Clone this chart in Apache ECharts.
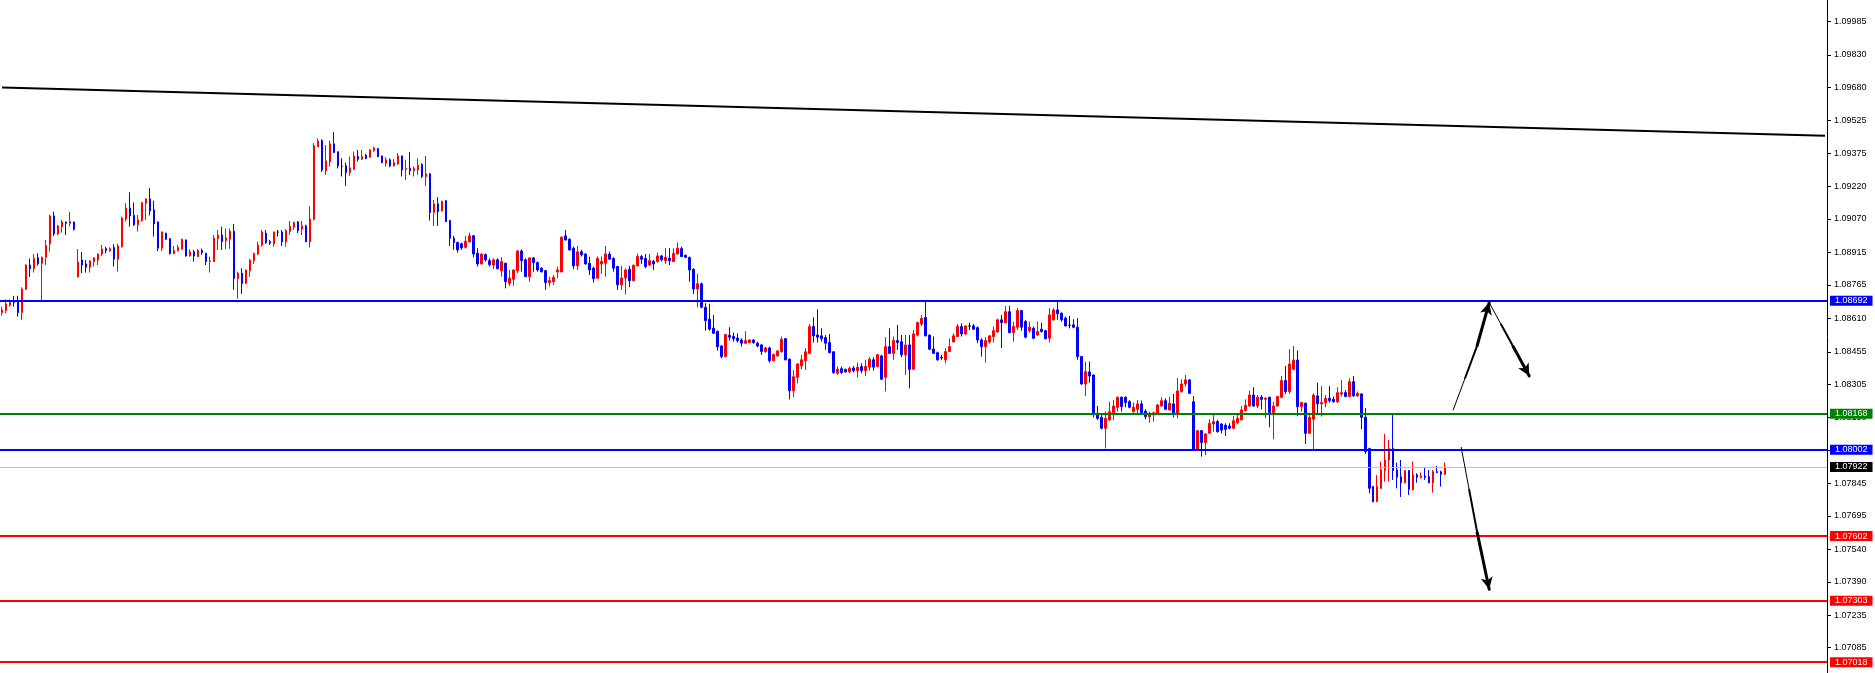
<!DOCTYPE html>
<html><head><meta charset="utf-8">
<script src="https://cdn.jsdelivr.net/npm/echarts@6/dist/echarts.min.js"></script>
<style>html,body{margin:0;padding:0;background:#fff}#c{width:1875px;height:673px}</style>
</head><body><div id="c"></div>
<script>
const openP=[1.08637,1.08646,1.08672,1.08692,1.08692,1.08637,1.08745,1.08857,1.08840,1.08891,
1.08865,1.08893,1.08955,1.09084,1.09001,1.09035,1.09056,1.09050,1.09056,1.08802,
1.08880,1.08862,1.08847,1.08873,1.08880,1.08908,1.08933,1.08924,1.08938,1.08884,
1.08942,1.09070,1.09121,1.09087,1.09043,1.09063,1.09143,1.09163,1.09112,1.09056,
1.08935,1.09004,1.08979,1.08910,1.08924,1.08930,1.08973,1.08899,1.08918,1.08896,
1.08924,1.08911,1.08873,1.08873,1.08979,1.08996,1.08970,1.08976,1.09013,1.08794,
1.08819,1.08772,1.08831,1.08877,1.08908,1.08950,1.09004,1.08965,1.08955,1.09009,
1.09010,1.08964,1.09012,1.09032,1.09056,1.09023,1.09038,1.08965,1.09069,1.09405,
1.09433,1.09294,1.09334,1.09418,1.09381,1.09314,1.09316,1.09285,1.09300,1.09359,
1.09347,1.09365,1.09356,1.09387,1.09396,1.09362,1.09328,1.09344,1.09316,1.09325,
1.09362,1.09300,1.09305,1.09294,1.09297,1.09322,1.09267,1.09279,1.09100,1.09140,
1.09109,1.09155,1.09063,1.08981,1.08961,1.08955,1.08939,1.08964,1.08992,1.08911,
1.08862,1.08905,1.08877,1.08857,1.08881,1.08831,1.08865,1.08772,1.08791,1.08831,
1.08922,1.08881,1.08803,1.08890,1.08868,1.08842,1.08831,1.08776,1.08780,1.08825,
1.08825,1.08992,1.08976,1.08935,1.08853,1.08918,1.08908,1.08865,1.08842,1.08796,
1.08862,1.08865,1.08908,1.08887,1.08850,1.08766,1.08797,1.08837,1.08785,1.08853,
1.08896,1.08887,1.08857,1.08874,1.08873,1.08899,1.08877,1.08888,1.08873,1.08908,
1.08933,1.08902,1.08892,1.08837,1.08746,1.08770,1.08661,1.08606,1.08564,1.08550,
1.08482,1.08433,1.08532,1.08526,1.08519,1.08510,1.08495,1.08498,1.08510,1.08495,
1.08487,1.08456,1.08473,1.08414,1.08436,1.08456,1.08516,1.08421,1.08275,1.08337,
1.08390,1.08414,1.08448,1.08572,1.08533,1.08529,1.08521,1.08498,1.08455,1.08356,
1.08377,1.08374,1.08362,1.08380,1.08368,1.08387,1.08368,1.08384,1.08418,1.08387,
1.08436,1.08337,1.08479,1.08448,1.08507,1.08502,1.08441,1.08487,1.08374,1.08533,
1.08584,1.08614,1.08533,1.08468,1.08451,1.08428,1.08418,1.08456,1.08501,1.08526,
1.08572,1.08538,1.08575,1.08575,1.08567,1.08510,1.08479,1.08501,1.08526,1.08547,
1.08603,1.08590,1.08641,1.08544,1.08569,1.08646,1.08595,1.08553,1.08564,1.08533,
1.08560,1.08553,1.08518,1.08603,1.08649,1.08634,1.08611,1.08578,1.08580,1.08569,
1.08433,1.08306,1.08362,1.08348,1.08170,1.08152,1.08101,1.08140,1.08173,1.08198,
1.08245,1.08245,1.08224,1.08178,1.08189,1.08214,1.08180,1.08155,1.08163,1.08167,
1.08204,1.08229,1.08186,1.08214,1.08170,1.08271,1.08306,1.08325,1.08224,1.08004,
1.08090,1.08035,1.08078,1.08121,1.08132,1.08121,1.08115,1.08112,1.08101,1.08127,
1.08140,1.08183,1.08204,1.08255,1.08204,1.08245,1.08235,1.08245,1.08173,1.08204,
1.08245,1.08322,1.08271,1.08374,1.08417,1.08201,1.08217,1.08078,1.08143,1.08251,
1.08214,1.08220,1.08240,1.08235,1.08224,1.08260,1.08266,1.08248,1.08317,1.08251,
1.08260,1.08152,1.08008,1.07831,1.07761,1.07823,1.07905,1.07954,1.08008,1.07908,
1.07877,1.07849,1.07905,1.07818,1.07885,1.07874,1.07880,1.07877,1.07849,1.07900,
1.07900,1.07888];
const highP=[1.08664,1.08698,1.08698,1.08714,1.08714,1.08754,1.08860,1.08887,1.08908,1.08911,
1.08896,1.08973,1.09090,1.09104,1.09043,1.09066,1.09058,1.09103,1.09058,1.08931,
1.08918,1.08880,1.08880,1.08893,1.08911,1.08950,1.08942,1.08939,1.08953,1.08955,
1.09081,1.09143,1.09194,1.09146,1.09089,1.09148,1.09166,1.09214,1.09155,1.09058,
1.09012,1.09007,1.08982,1.08945,1.08950,1.08979,1.08975,1.08930,1.08927,1.08931,
1.08933,1.08914,1.08896,1.08996,1.09019,1.09035,1.09026,1.09026,1.09047,1.08826,
1.08842,1.08836,1.08884,1.08914,1.08965,1.09019,1.09019,1.08973,1.09012,1.09019,
1.09019,1.09023,1.09061,1.09058,1.09061,1.09061,1.09043,1.09128,1.09421,1.09443,
1.09439,1.09412,1.09433,1.09473,1.09383,1.09351,1.09331,1.09359,1.09382,1.09390,
1.09390,1.09372,1.09393,1.09405,1.09399,1.09364,1.09356,1.09351,1.09347,1.09375,
1.09364,1.09344,1.09381,1.09313,1.09351,1.09328,1.09362,1.09282,1.09158,1.09171,
1.09155,1.09158,1.09066,1.08992,1.08965,1.08961,1.08992,1.09007,1.08996,1.08935,
1.08911,1.08911,1.08888,1.08888,1.08888,1.08893,1.08868,1.08834,1.08837,1.08927,
1.08930,1.08888,1.08892,1.08893,1.08873,1.08847,1.08834,1.08803,1.08811,1.08850,
1.08989,1.09019,1.08981,1.08942,1.08945,1.08927,1.08911,1.08896,1.08850,1.08896,
1.08896,1.08945,1.08919,1.08893,1.08853,1.08853,1.08842,1.08853,1.08859,1.08911,
1.08904,1.08908,1.08908,1.08881,1.08914,1.08904,1.08935,1.08935,1.08935,1.08961,
1.08942,1.08905,1.08896,1.08842,1.08816,1.08776,1.08680,1.08677,1.08626,1.08553,
1.08485,1.08538,1.08569,1.08544,1.08541,1.08518,1.08550,1.08513,1.08513,1.08502,
1.08492,1.08479,1.08479,1.08448,1.08464,1.08526,1.08519,1.08425,1.08371,1.08402,
1.08441,1.08472,1.08584,1.08615,1.08652,1.08564,1.08533,1.08538,1.08458,1.08387,
1.08387,1.08377,1.08387,1.08390,1.08405,1.08402,1.08418,1.08430,1.08430,1.08445,
1.08441,1.08523,1.08564,1.08526,1.08580,1.08533,1.08533,1.08533,1.08556,1.08595,
1.08626,1.08691,1.08535,1.08526,1.08456,1.08441,1.08472,1.08516,1.08541,1.08584,
1.08587,1.08578,1.08590,1.08584,1.08572,1.08518,1.08523,1.08533,1.08572,1.08609,
1.08626,1.08668,1.08668,1.08595,1.08657,1.08649,1.08603,1.08595,1.08572,1.08595,
1.08590,1.08556,1.08657,1.08657,1.08692,1.08637,1.08618,1.08621,1.08606,1.08611,
1.08436,1.08410,1.08410,1.08350,1.08204,1.08163,1.08178,1.08224,1.08232,1.08248,
1.08248,1.08248,1.08232,1.08220,1.08232,1.08229,1.08189,1.08178,1.08178,1.08214,
1.08245,1.08240,1.08245,1.08260,1.08333,1.08328,1.08348,1.08328,1.08251,1.08093,
1.08093,1.08078,1.08143,1.08163,1.08140,1.08124,1.08124,1.08124,1.08158,1.08163,
1.08204,1.08235,1.08275,1.08291,1.08255,1.08255,1.08245,1.08247,1.08224,1.08251,
1.08343,1.08390,1.08467,1.08482,1.08461,1.08224,1.08220,1.08173,1.08263,1.08312,
1.08297,1.08255,1.08297,1.08248,1.08291,1.08325,1.08278,1.08333,1.08343,1.08271,
1.08263,1.08194,1.08010,1.07834,1.07885,1.07947,1.08075,1.08047,1.08163,1.07942,
1.07954,1.07908,1.07908,1.07947,1.07893,1.07896,1.07920,1.07908,1.07908,1.07926,
1.07905,1.07942];
const lowP=[1.08623,1.08633,1.08664,1.08664,1.08618,1.08603,1.08742,1.08802,1.08822,1.08854,
1.08695,1.08857,1.08919,1.08992,1.08995,1.09007,1.08996,1.09035,1.09016,1.08799,
1.08819,1.08822,1.08822,1.08850,1.08857,1.08899,1.08911,1.08918,1.08850,1.08826,
1.08938,1.09058,1.09035,1.09038,1.09012,1.09058,1.09066,1.09086,1.08989,1.08922,
1.08922,1.08973,1.08905,1.08908,1.08919,1.08928,1.08896,1.08896,1.08873,1.08894,
1.08904,1.08857,1.08822,1.08871,1.08927,1.08927,1.08930,1.08933,1.08742,1.08701,
1.08723,1.08769,1.08803,1.08862,1.08904,1.08942,1.08955,1.08950,1.08942,1.08989,
1.08945,1.08942,1.08996,1.09019,1.09004,1.08996,1.08963,1.08938,1.09063,1.09402,
1.09288,1.09274,1.09313,1.09375,1.09304,1.09267,1.09223,1.09270,1.09297,1.09336,
1.09344,1.09347,1.09353,1.09381,1.09356,1.09328,1.09313,1.09310,1.09313,1.09321,
1.09267,1.09251,1.09274,1.09267,1.09274,1.09259,1.09223,1.09063,1.09038,1.09038,
1.09104,1.09056,1.08945,1.08927,1.08914,1.08927,1.08933,1.08961,1.08893,1.08850,
1.08859,1.08873,1.08850,1.08837,1.08837,1.08803,1.08749,1.08760,1.08760,1.08819,
1.08826,1.08801,1.08780,1.08826,1.08826,1.08822,1.08742,1.08757,1.08765,1.08796,
1.08823,1.08970,1.08924,1.08837,1.08834,1.08896,1.08859,1.08811,1.08776,1.08794,
1.08816,1.08803,1.08881,1.08826,1.08742,1.08742,1.08720,1.08754,1.08780,1.08850,
1.08862,1.08842,1.08853,1.08834,1.08868,1.08873,1.08862,1.08857,1.08871,1.08904,
1.08893,1.08890,1.08780,1.08723,1.08661,1.08657,1.08553,1.08553,1.08538,1.08461,
1.08425,1.08430,1.08507,1.08502,1.08498,1.08479,1.08492,1.08495,1.08492,1.08476,
1.08441,1.08451,1.08405,1.08411,1.08433,1.08451,1.08416,1.08235,1.08245,1.08309,
1.08374,1.08371,1.08445,1.08498,1.08498,1.08502,1.08464,1.08448,1.08353,1.08348,
1.08353,1.08359,1.08356,1.08359,1.08337,1.08356,1.08343,1.08368,1.08368,1.08384,
1.08325,1.08271,1.08445,1.08418,1.08464,1.08430,1.08348,1.08286,1.08371,1.08526,
1.08575,1.08527,1.08464,1.08445,1.08414,1.08418,1.08402,1.08455,1.08498,1.08523,
1.08526,1.08533,1.08556,1.08556,1.08495,1.08433,1.08405,1.08492,1.08498,1.08544,
1.08472,1.08587,1.08541,1.08502,1.08556,1.08553,1.08518,1.08544,1.08513,1.08529,
1.08544,1.08513,1.08498,1.08600,1.08603,1.08595,1.08572,1.08564,1.08564,1.08418,
1.08302,1.08251,1.08312,1.08152,1.08140,1.08096,1.08008,1.08136,1.08140,1.08178,
1.08178,1.08198,1.08194,1.08173,1.08170,1.08170,1.08143,1.08127,1.08132,1.08163,
1.08201,1.08186,1.08183,1.08152,1.08147,1.08266,1.08294,1.08260,1.07998,1.07998,
1.07970,1.07977,1.08075,1.08085,1.08081,1.08078,1.08065,1.08096,1.08096,1.08121,
1.08138,1.08178,1.08201,1.08201,1.08194,1.08189,1.08147,1.08106,1.08050,1.08201,
1.08240,1.08260,1.08260,1.08371,1.08158,1.08178,1.08028,1.08075,1.08004,1.08170,
1.08155,1.08198,1.08220,1.08220,1.08217,1.08248,1.08245,1.08245,1.08248,1.08248,
1.08096,1.07982,1.07800,1.07759,1.07759,1.07821,1.07854,1.07854,1.07862,1.07823,
1.07783,1.07846,1.07792,1.07812,1.07849,1.07868,1.07862,1.07846,1.07803,1.07893,
1.07831,1.07885];
const closeP=[1.08649,1.08677,1.08683,1.08683,1.08637,1.08745,1.08857,1.08840,1.08888,1.08863,
1.08893,1.08947,1.09084,1.09001,1.09038,1.09056,1.09050,1.09058,1.09023,1.08871,
1.08857,1.08847,1.08876,1.08890,1.08908,1.08931,1.08924,1.08933,1.08884,1.08945,
1.09075,1.09120,1.09084,1.09043,1.09066,1.09146,1.09163,1.09107,1.09047,1.08935,
1.09010,1.08976,1.08910,1.08924,1.08938,1.08976,1.08899,1.08918,1.08899,1.08924,
1.08914,1.08873,1.08876,1.08982,1.08996,1.08965,1.08982,1.09013,1.08794,1.08819,
1.08772,1.08834,1.08880,1.08911,1.08950,1.09010,1.08961,1.08958,1.09010,1.09009,
1.08964,1.09016,1.09035,1.09053,1.09016,1.09038,1.08965,1.09070,1.09409,1.09430,
1.09297,1.09339,1.09418,1.09378,1.09316,1.09314,1.09285,1.09307,1.09362,1.09347,
1.09359,1.09350,1.09390,1.09398,1.09359,1.09331,1.09344,1.09316,1.09331,1.09362,
1.09297,1.09305,1.09294,1.09304,1.09319,1.09267,1.09279,1.09100,1.09140,1.09104,
1.09152,1.09058,1.08981,1.08961,1.08927,1.08936,1.08967,1.08992,1.08908,1.08862,
1.08908,1.08881,1.08859,1.08881,1.08840,1.08873,1.08780,1.08796,1.08834,1.08922,
1.08877,1.08803,1.08890,1.08868,1.08834,1.08826,1.08776,1.08785,1.08800,1.08834,
1.08986,1.08973,1.08927,1.08853,1.08918,1.08904,1.08862,1.08834,1.08794,1.08887,
1.08873,1.08908,1.08884,1.08842,1.08766,1.08797,1.08834,1.08785,1.08856,1.08896,
1.08884,1.08850,1.08877,1.08862,1.08899,1.08881,1.08893,1.08877,1.08911,1.08935,
1.08896,1.08893,1.08834,1.08746,1.08770,1.08661,1.08600,1.08560,1.08541,1.08479,
1.08433,1.08535,1.08523,1.08516,1.08507,1.08495,1.08507,1.08510,1.08498,1.08482,
1.08456,1.08473,1.08414,1.08442,1.08459,1.08513,1.08418,1.08275,1.08340,1.08399,
1.08418,1.08455,1.08572,1.08529,1.08523,1.08516,1.08495,1.08451,1.08359,1.08374,
1.08359,1.08362,1.08379,1.08368,1.08384,1.08368,1.08387,1.08421,1.08384,1.08442,
1.08328,1.08479,1.08448,1.08507,1.08498,1.08441,1.08487,1.08374,1.08538,1.08590,
1.08610,1.08529,1.08467,1.08448,1.08418,1.08428,1.08456,1.08479,1.08529,1.08572,
1.08538,1.08575,1.08575,1.08560,1.08510,1.08479,1.08507,1.08529,1.08553,1.08603,
1.08590,1.08641,1.08544,1.08572,1.08646,1.08569,1.08523,1.08569,1.08518,1.08549,
1.08549,1.08516,1.08626,1.08649,1.08631,1.08603,1.08575,1.08578,1.08569,1.08433,
1.08306,1.08363,1.08343,1.08170,1.08147,1.08101,1.08147,1.08178,1.08204,1.08245,
1.08201,1.08220,1.08198,1.08198,1.08214,1.08173,1.08155,1.08170,1.08173,1.08209,
1.08229,1.08189,1.08217,1.08170,1.08274,1.08306,1.08325,1.08263,1.08001,1.08090,
1.08035,1.08075,1.08124,1.08132,1.08085,1.08093,1.08096,1.08101,1.08136,1.08147,
1.08186,1.08207,1.08255,1.08204,1.08245,1.08235,1.08240,1.08173,1.08204,1.08248,
1.08322,1.08271,1.08399,1.08417,1.08201,1.08220,1.08078,1.08152,1.08255,1.08214,
1.08220,1.08240,1.08229,1.08224,1.08266,1.08266,1.08248,1.08317,1.08251,1.08263,
1.08152,1.07993,1.07823,1.07761,1.07831,1.07908,1.07954,1.08008,1.07905,1.07874,
1.07849,1.07905,1.07818,1.07885,1.07874,1.07880,1.07874,1.07849,1.07900,1.07896,
1.07888,1.07920];

// price-axis tick labels
const tickValues=[1.09985,1.09830,1.09680,1.09525,1.09375,1.09220,1.09070,1.08915,1.08765,1.08610,
1.08455,1.08305,1.08150,1.08000,1.07845,1.07695,1.07540,1.07390,1.07235,1.07085];
// horizontal levels
const resistanceLevels=[1.08692,1.08002];
const pivotLevel=[1.08168];
const supportLevels=[1.07602,1.07303,1.07018];
const currentPrice=1.07922;
// trend line [categoryIndex, price]
const trendLine=[[0,1.09679],[456,1.09456]];
// scenario arrows [categoryIndex, price]
const arrowUp=[[363.4,1.08186],[372.4,1.08683]];
const arrowBack=[[372.4,1.08683],[382.2,1.08344]];
const arrowDown=[[364.5,1.08013],[372.2,1.07356]];
const totalSlots=457;

const cats=[];for(let i=0;i<totalSlots;i++)cats.push(String(i));
const kData=openP.map((o,i)=>[o,closeP[i],lowP[i],highP[i]]);

const FONT='Liberation Sans';
function levelLine(v,color,width){
  return {yAxis:v,lineStyle:{color:color,width:width,type:'solid'},
    label:{show:true,position:'end',distance:3,formatter:p=>Number(p.value).toFixed(5),
      color:'#fff',backgroundColor:color,padding:[1,5,0,5],fontSize:9,lineHeight:9,fontFamily:FONT}};
}
function tapered(seg){
  const [a,b]=seg;const out=[];
  const fr=[0,0.3,0.6,1];const w=[1,2,3];
  for(let k=0;k<3;k++){
    const p0=[a[0]+(b[0]-a[0])*fr[k],a[1]+(b[1]-a[1])*fr[k]];
    const p1=[a[0]+(b[0]-a[0])*fr[k+1],a[1]+(b[1]-a[1])*fr[k+1]];
    const end={coord:p1,symbol:k===2?'arrow':'none',symbolSize:k===2?[9,12]:0};
    out.push([{coord:p0,symbol:'none',lineStyle:{color:'#000',width:w[k],type:'solid',cap:'round'},label:{show:false}},end]);
  }
  return out;
}
const mlData=[];
mlData.push([{coord:trendLine[0],symbol:'none',lineStyle:{color:'#000',width:2,type:'solid'},label:{show:false}},{coord:trendLine[1],symbol:'none'}]);
mlData.push(levelLine(currentPrice,'#000000',1));
mlData[mlData.length-1].lineStyle.color='#c0c0c0';
resistanceLevels.forEach(v=>mlData.push(levelLine(v,'#0000ff',2)));
pivotLevel.forEach(v=>mlData.push(levelLine(v,'#008000',2)));
supportLevels.forEach(v=>mlData.push(levelLine(v,'#ff0000',2)));
[arrowUp,arrowBack,arrowDown].forEach(s=>tapered(s).forEach(d=>mlData.push(d)));

const chart=echarts.init(document.getElementById('c'),null,{renderer:'canvas'});
chart.setOption({
  animation:false,
  backgroundColor:'#ffffff',
  grid:{left:0,right:48,top:0,bottom:0,containLabel:false},
  xAxis:{type:'category',data:cats,boundaryGap:true,show:false},
  yAxis:{type:'value',position:'right',min:1.06968,max:1.10084,scale:true,
    splitLine:{show:false},
    axisLine:{show:true,onZero:false,lineStyle:{color:'#000',width:1}},
    axisTick:{show:true,length:4,inside:false,customValues:tickValues,lineStyle:{color:'#000'}},
    axisLabel:{show:true,margin:7,customValues:tickValues,color:'#000',fontSize:9,fontFamily:FONT,
      formatter:v=>Number(v).toFixed(5)}},
  series:[{
    type:'candlestick',data:kData,barWidth:2,
    itemStyle:{color:'#ff0000',color0:'#0000ff',borderColor:'#ff0000',borderColor0:'#0000ff',borderColorDoji:'#000000',borderWidth:1},
    markLine:{silent:true,animation:false,symbol:['none','none'],precision:5,data:mlData}
  }]
});
</script></body></html>
